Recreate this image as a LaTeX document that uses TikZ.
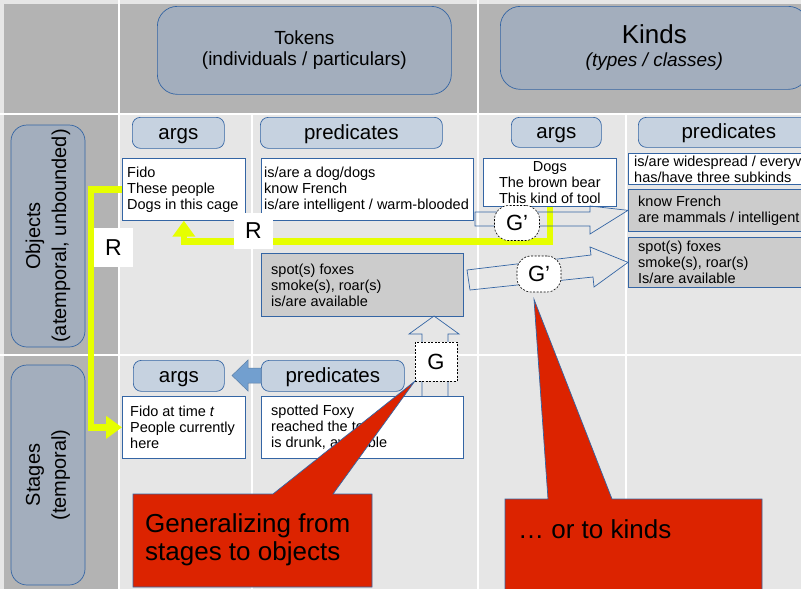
\documentclass[tikz,border=0pt]{standalone}
\usepackage{fontspec}
\setmainfont{Liberation Sans}
\usetikzlibrary{arrows.meta,calc}
\definecolor{bgl}{HTML}{E6E6E6}
\definecolor{bgd}{HTML}{B3B3B3}
\definecolor{bord}{HTML}{3465A4}
\definecolor{hdrf}{HTML}{A3AEBD}
\definecolor{subf}{HTML}{C6D2E0}
\definecolor{grayf}{HTML}{CCCCCC}
\definecolor{redf}{HTML}{DC2300}
\definecolor{yel}{HTML}{E6FF00}
\definecolor{bluea}{HTML}{729FCF}
\newcommand\fsz[2]{\fontsize{#1}{#2}\selectfont}
\begin{document}
\begin{tikzpicture}[x=1pt,y=-1pt,
  hdr/.style={draw=bord, fill=hdrf, rounded corners=20pt, line width=0.7pt, align=center, inner sep=0pt},
  lbl/.style={hdr, rounded corners=16pt, rotate=90, font=\fsz{20}{26}},
  subh/.style={draw=bord, fill=subf, rounded corners=8pt, line width=0.7pt, font=\fsz{20.5}{24}, anchor=north west, inner sep=0pt, text height=15pt, text depth=2pt},
  wbox/.style={draw=bord, fill=white, line width=0.7pt, anchor=north west, inner sep=0pt},
  gbox/.style={wbox, fill=grayf},
  txt/.style={font=\fsz{14.5}{16}, align=left, inner sep=0pt, anchor=west},
  yline/.style={draw=yel, line width=6.5pt, -{Triangle[width=22pt,length=16pt]}},
  rlbl/.style={fill=white, inner sep=0pt, font=\fsz{23}{23}},
  glbl/.style={draw=black, fill=white, dashed, dash pattern=on 2pt off 1.5pt, line width=0.6pt, inner sep=0pt, font=\fsz{22}{22}},
  blockarr/.style={draw=bord, line width=0.7pt},
  callout/.style={fill=redf, draw=bord, line width=0.7pt},
  ctext/.style={font=\fsz{26}{28.5}, align=left, anchor=north west, inner sep=0pt},
  gridl/.style={draw=white, line width=2pt}
]
\clip (0,0) rectangle (801,589);
% background
\fill[bgl] (0,0) rectangle (801,589);
\fill[bgd] (4,4) rectangle (801,113);
\fill[bgd] (4,4) rectangle (118,589);
\draw[gridl] (0,114) -- (801,114);
\draw[gridl] (0,355) -- (801,355);
\draw[gridl] (119,0) -- (119,589);
\draw[gridl] (478,0) -- (478,589);
\draw[gridl] (252,114) -- (252,589);
\draw[gridl] (626,114) -- (626,589);

% headers
\node[hdr, anchor=north west, minimum width=294pt, minimum height=88pt, font=\fsz{19}{21}] (tok) at (157,6) {Tokens\\(individuals / particulars)};
\node[hdr, anchor=north west, minimum width=308pt, minimum height=83pt, font=\fsz{26}{23}] (kin) at (500,6) {Kinds\\{\fsz{19}{23}\itshape (types / classes)}};
\node[lbl, minimum width=222pt, minimum height=74pt] (obj) at (48,236) {Objects\\(atemporal, unbounded)};
\node[lbl, minimum width=220pt, minimum height=74pt] (stg) at (48,475) {Stages\\(temporal)};

% sub headers
\node[subh, minimum width=92pt, minimum height=31pt] (tah) at (132,117) {args};
\node[subh, minimum width=182pt, minimum height=31pt] (tph) at (260,117) {predicates};
\node[subh, minimum width=90pt, minimum height=30pt] (kah) at (511,117) {args};
\node[subh, minimum width=181pt, minimum height=30pt] (kph) at (638,117) {predicates};
\node[subh, minimum width=91pt, minimum height=31pt] (sah) at (133,360) {args};
\node[subh, minimum width=143pt, minimum height=31pt] (sph) at (261,360) {predicates};

% blue arrow predicates -> args (stages)
\draw[fill=bluea, draw=bluea!80!black, line width=0.5pt] (sph.west |- 0,368) -- (248,368) -- (248,360) -- (232,375.5) -- (248,391) -- (248,383) -- (sph.west |- 0,383) -- cycle;

% content boxes
\node[wbox, minimum width=123pt, minimum height=62pt] (ta) at (122,158) {};
\node[txt] (tat) at ($(ta.west)+(5,0)$) {Fido\\These people\\Dogs in this cage};
\node[wbox, minimum width=212pt, minimum height=62pt] (tp) at (261,158) {};
\node[txt] (tpt) at ($(tp.west)+(3,0)$) {is/are a dog/dogs\\know French\\is/are intelligent / warm-blooded};
\node[gbox, minimum width=202pt, minimum height=63pt] (tg) at (261,253) {};
\node[txt] (tgt) at ($(tg.west)+(10,0)$) {spot(s) foxes\\smoke(s), roar(s)\\is/are available};
\node[wbox, minimum width=133pt, minimum height=48pt] (ka) at (483,158) {};
\node[txt, align=center, anchor=center] (kat) at (ka.center) {Dogs\\The brown bear\\This kind of tool};
\node[wbox, minimum width=220pt, minimum height=31pt] (kp) at (628,153) {};
\node[txt] (kpt) at ($(kp.west)+(6,0)$) {is/are widespread / everywhere\\has/have three subkinds};
\node[gbox, minimum width=220pt, minimum height=42pt] (kg1) at (628,189) {};
\node[txt] (kg1t) at ($(kg1.west)+(10,0)$) {know French\\are mammals / intelligent};
\node[gbox, minimum width=220pt, minimum height=50pt] (kg2) at (628,237) {};
\node[txt] (kg2t) at ($(kg2.west)+(10,0)$) {spot(s) foxes\\smoke(s), roar(s)\\Is/are available};
\node[wbox, minimum width=123pt, minimum height=62pt] (sa) at (122,396) {};
\node[txt] (sat) at ($(sa.west)+(8,0)$) {Fido at time \textit{t}\\People currently\\here};
\node[wbox, minimum width=202pt, minimum height=62pt] (sp) at (261,396) {};
\node[txt] (spt) at ($(sp.west)+(10,0)$) {spotted Foxy\\reached the top\\is drunk, available};

% yellow R connectors
\draw[yline] (ka.south) -- ++(0,35) -| (ta.south);
\draw[yline] (ta.west) -- ++(-31,0) |- (sa.west);
\node[rlbl, minimum width=39pt, minimum height=36pt] (r1) at (253.5,231) {R};
\node[rlbl, minimum width=39pt, minimum height=39pt] (r2) at (113.5,247.5) {R};

% G' arrows (outline)
\draw[blockarr] (475,212) -- (590,212) -- (590,206) -- (kg1.west) -- (590,234) -- (590,226) -- (475,226) -- cycle;
\draw[blockarr] (467,270) -- (591,255) -- (590,247) -- (kg2.west) -- (594,287) -- (593,277) -- (470,290) -- cycle;
% G up arrow (outline)
\draw[blockarr] (422,396) -- (422,334) -- (409,334) -- (434,316) -- (459,334) -- (448,334) -- (448,396);

% labels
\node[glbl, rounded corners=14pt, minimum width=45pt, minimum height=35pt] (gp1) at (517,223) {G’};
\node[glbl, rounded corners=14pt, minimum width=44pt, minimum height=36pt] (gp2) at (539,274) {G’};
\node[glbl, minimum width=42pt, minimum height=39pt] (g) at (436,361.5) {G};

% callouts
\draw[callout] (133,494) -- (273,494) -- (g.south west) -- (333,494) -- (372,494) -- (372,587) -- (133,587) -- cycle;
\node[ctext] (c1) at (145,513) {Generalizing from\\stages to objects};
\draw[callout] (505,499) -- (548,499) -- ($(gp2.south)+(-5,7)$) -- (612,499) -- (762,499) -- (762,600) -- (505,600) -- cycle;
\node[ctext] (c2) at (518,519) {… or to kinds};
\end{tikzpicture}
\end{document}
